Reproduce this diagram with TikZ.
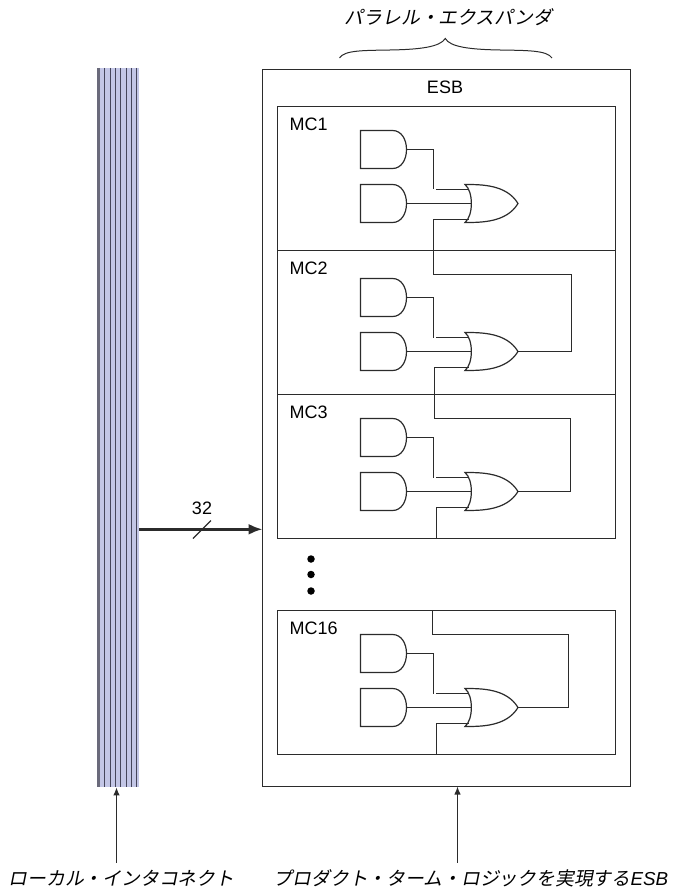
\documentclass[tikz,border=0pt]{standalone}
\usepackage{fontspec}
\setmainfont{Liberation Sans}
\newfontfamily\jpfont[FakeSlant=0.2]{Noto Sans CJK JP}
\usetikzlibrary{arrows.meta}
\definecolor{busfill}{HTML}{C3C6E6}
\definecolor{busline}{HTML}{45455A}
\definecolor{wirecol}{HTML}{2B2B2B}
\begin{document}
\begin{tikzpicture}[
      x=1pt, y=-1pt,
      font=\fontsize{18}{21}\selectfont,
      wire/.style={draw=wirecol, line width=1.2pt},
      mcbox/.style={wire, anchor=north west, inner sep=0pt, outer sep=0pt,
                    minimum width=338pt, minimum height=144pt},
      esbbox/.style={wire, anchor=north west, inner sep=0pt, outer sep=0pt,
                    minimum width=368pt, minimum height=717pt},
      andgate/.pic={
        \draw[wire] (-23,-19) -- (9,-19) .. controls (18,-19) and (23,-10) .. (23,0)
           .. controls (23,10) and (18,19) .. (9,19) -- (-23,19) -- cycle;
        \coordinate (-out) at (23,0);
      },
      orgate/.pic={
        \draw[wire] (-26.5,-19) .. controls (-18,-12) and (-18,12) .. (-26.5,19)
           .. controls (-10,19) and (15,19) .. (26.5,0)
           .. controls (15,-19) and (-10,-19) .. cycle;
        \coordinate (-in1) at (-22.5,-14);
        \coordinate (-in2) at (-20,0);
        \coordinate (-in3) at (-23,16);
        \coordinate (-out) at (26.5,0);
      },
      stripe/.style={draw=busline, line width=1.2pt},
      arr/.style={-{Latex[length=8pt,width=6.5pt]}, wire},
      busarr/.style={-{Latex[length=14pt,width=11pt]}, draw=wirecol, line width=2.5pt},
      dotnode/.style={circle, fill=black, inner sep=0pt, minimum size=7.5pt},
      lbl/.style={inner sep=0pt},
      jplbl/.style={inner sep=0pt, font=\fontsize{18.8}{21}\selectfont\jpfont}
    ]
    \useasboundingbox (0,0) rectangle (673,890);
    % bus
    \node[fill=busfill, anchor=north west, inner sep=0pt, minimum width=40.7pt, minimum height=719pt] (bus) at (98,68) {};
    \draw[stripe, line width=2.2pt, draw=busline!80] (98.5,68) -- (98.5,787);
    \draw[stripe] (104.5,68) -- (104.5,787);
    \draw[stripe] (110.5,68) -- (110.5,787);
    \draw[stripe] (115.5,68) -- (115.5,787);
    \draw[stripe] (120.5,68) -- (120.5,787);
    \draw[stripe] (126.5,68) -- (126.5,787);
    \draw[stripe] (131.5,68) -- (131.5,787);
    \draw[stripe] (136.5,68) -- (136.5,787);

    % outer box
    \node[esbbox] (esb) at (262.5,69.5) {};
    \node[lbl] (esbtxt) at (445,87.5) {ESB};

    % MC1
    \node[mcbox] (mc1) at (277.5,106.5) {};
    \node[lbl, anchor=north west] (mc1txt) at (289.5,117.5) {MC1};
    \pic (a11) at (383.5,149.5) {andgate};
    \pic (a12) at (383.5,203.5) {andgate};
    \pic (or1) at (491.5,203.5) {orgate};
    \coordinate (j1) at (433.5,189.5);
    \coordinate (f1) at (433.5,274.5);
    \draw[wire] (a11-out) -| (j1);
    \draw[wire] ([xshift=2.5pt]j1) -- (or1-in1);
    \draw[wire] (a12-out) -- (or1-in2);

    % MC2
    \node[mcbox] (mc2) at (277.5,250.5) {};
    \node[lbl, anchor=north west] (mc2txt) at (289.5,261.5) {MC2};
    \pic (a21) at (383.5,297.5) {andgate};
    \pic (a22) at (383.5,351.5) {andgate};
    \pic (or2) at (491.5,351.5) {orgate};
    \coordinate (j2) at (433.5,337.5);
    \coordinate (f2) at (434.5,418.5);
    \coordinate (r2) at (571.5,351.5);
    \draw[wire] (a21-out) -| (j2);
    \draw[wire] ([xshift=2.5pt]j2) -- (or2-in1);
    \draw[wire] (a22-out) -- (or2-in2);
    \draw[wire] (or1-in3) -| (f1) -| (r2) -- (or2-out);

    % MC3
    \node[mcbox] (mc3) at (277.5,394.5) {};
    \node[lbl, anchor=north west] (mc3txt) at (289.5,405.5) {MC3};
    \pic (a31) at (383.5,437.5) {andgate};
    \pic (a32) at (383.5,491.5) {andgate};
    \pic (or3) at (491.5,491.5) {orgate};
    \coordinate (j3) at (433.5,477.5);
    \coordinate (b3) at (436.5,538.5);
    \coordinate (r3) at (570.5,491.5);
    \draw[wire] (a31-out) -| (j3);
    \draw[wire] ([xshift=2.5pt]j3) -- (or3-in1);
    \draw[wire] (a32-out) -- (or3-in2);
    \draw[wire] (or2-in3) -| (f2) -| (r3) -- (or3-out);
    \draw[wire] (or3-in3) -| (b3);

    % dots
    \node[dotnode] (d1) at (311,559) {};
    \node[dotnode] (d2) at (311,574.5) {};
    \node[dotnode] (d3) at (311,591) {};

    % MC16
    \node[mcbox] (mc16) at (277.5,610.5) {};
    \node[lbl, anchor=north west] (mc16txt) at (289.5,621.5) {MC16};
    \pic (a41) at (383.5,653.5) {andgate};
    \pic (a42) at (383.5,707.5) {andgate};
    \pic (or4) at (491.5,707.5) {orgate};
    \coordinate (j4) at (433.5,693.5);
    \coordinate (t4) at (432.5,634.5);
    \coordinate (b4) at (436.5,754.5);
    \coordinate (r4) at (568.5,707.5);
    \draw[wire] (a41-out) -| (j4);
    \draw[wire] ([xshift=2.5pt]j4) -- (or4-in1);
    \draw[wire] (a42-out) -- (or4-in2);
    \draw[wire] (t4 |- mc16.north) -- (t4) -| (r4) -- (or4-out);
    \draw[wire] (or4-in3) -| (b4);

    % bus to ESB
    \coordinate (out) at (139,529.3);
    \coordinate (in) at (262.5,529.3);
    \draw[busarr] (out) -- (in);
    \node[lbl] (w32) at (202,508) {32};
    \coordinate (t1) at (193,538.5);
    \coordinate (t2) at (211,520.5);
    \draw[wire] (t1) -- (t2);

    % labels
    \node[jplbl] (top) at (448.5,17.5) {パラレル・エクスパンダ};
    \coordinate (bl) at (339.5,58);
    \coordinate (bt) at (445.3,38.5);
    \coordinate (br) at (552,58);
    \draw[wire, line width=1pt] (bl) .. controls (344,50) and (365,50.5) .. (390,50)
       .. controls (420,49.5) and (440,47) .. (bt)
       .. controls (450,47) and (470,49.5) .. (500,50)
       .. controls (525,50.5) and (547,50) .. (br);
    \node[jplbl] (lblA) at (121.5,878) {ローカル・インタコネクト};
    \node[jplbl] (lblB) at (471,878) {プロダクト・ターム・ロジックを実現する\textit{\rmfamily ESB}};
    \coordinate (tailA) at (116.5,862.7);
    \coordinate (tailB) at (457.5,862.7);
    \draw[arr] (tailA) -- (tailA |- bus.south);
    \draw[arr] (tailB) -- (tailB |- esb.south);
  \end{tikzpicture}
\end{document}
